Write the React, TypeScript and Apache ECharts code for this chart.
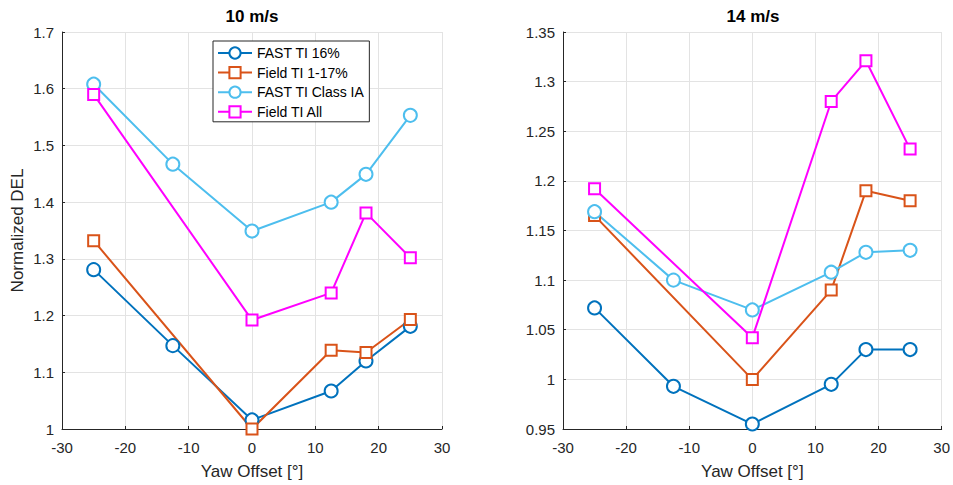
import React, { useEffect, useRef } from "react";
import * as echarts from "echarts";

const yawFast = [-25, -12.5, 0, 12.5, 18, 25];
const yawField = [-25, 0, 12.5, 18, 25];

const seriesNames = ["FAST TI 16%", "Field TI 1-17%", "FAST TI Class IA", "Field TI All"];
const seriesColors = ["#0072BD", "#D95319", "#4DBEEE", "#FF00FF"];

// 10 m/s
const fast16_10 = [1.281, 1.147, 1.016, 1.067, 1.12, 1.181];
const field117_10 = [1.332, 1.0, 1.139, 1.135, 1.193];
const fastIA_10 = [1.608, 1.467, 1.349, 1.4, 1.449, 1.553];
const fieldAll_10 = [1.59, 1.192, 1.24, 1.381, 1.302];

// 14 m/s
const fast16_14 = [1.072, 0.993, 0.955, 0.995, 1.03, 1.03];
const field117_14 = [1.165, 1.0, 1.09, 1.19, 1.18];
const fastIA_14 = [1.169, 1.1, 1.07, 1.108, 1.128, 1.13];
const fieldAll_14 = [1.192, 1.042, 1.28, 1.321, 1.232];

const titles = ["10 m/s", "14 m/s"];

const FONT = "Liberation Sans, Arial, Helvetica, sans-serif";
const AXIS_COLOR = "#262626";

function pairs(xs: number[], ys: number[]) {
  return xs.map((x, i) => [x, ys[i]]);
}

export default function App() {
  const ref = useRef<HTMLDivElement>(null);
  useEffect(() => {
    if (!ref.current) return;
    const chart = echarts.init(ref.current, undefined, { renderer: "svg" });
    const grids = [
      { left: 62, top: 32, width: 380, height: 401 },
      { left: 563, top: 32, width: 380, height: 401 },
    ];
    const xAxis = [0, 1].map((i) => ({
      type: "value",
      gridIndex: i,
      min: -30,
      max: 30,
      interval: 10,
      name: "Yaw Offset [°]",
      nameLocation: "middle",
      nameGap: 34,
      nameTextStyle: { fontFamily: FONT, fontSize: 17, color: AXIS_COLOR },
      axisLine: { show: true, onZero: false, lineStyle: { color: AXIS_COLOR, width: 1 } },
      axisTick: { show: true, inside: true, length: 3, lineStyle: { color: AXIS_COLOR } },
      axisLabel: { fontFamily: FONT, fontSize: 15, color: AXIS_COLOR, margin: 11 },
      splitLine: { show: true, lineStyle: { color: "#e3e3e3", width: 1 } },
    }));
    const fmt = (v: number) => String(+v.toFixed(2));
    const yAxis = [
      {
        type: "value",
        gridIndex: 0,
        min: 1,
        max: 1.7,
        interval: 0.1,
        name: "Normalized DEL",
        nameLocation: "middle",
        nameGap: 36,
        nameTextStyle: { fontFamily: FONT, fontSize: 17, color: AXIS_COLOR },
      },
      {
        type: "value",
        gridIndex: 1,
        min: 0.95,
        max: 1.35,
        interval: 0.05,
      },
    ].map((a) => ({
      ...a,
      axisLine: { show: true, onZero: false, lineStyle: { color: AXIS_COLOR, width: 1 } },
      axisTick: { show: true, inside: true, length: 3, lineStyle: { color: AXIS_COLOR } },
      axisLabel: { fontFamily: FONT, fontSize: 15, color: AXIS_COLOR, margin: 8, formatter: fmt },
      splitLine: { show: true, lineStyle: { color: "#e3e3e3", width: 1 } },
    }));

    const dataSets = [
      [pairs(yawFast, fast16_10), pairs(yawField, field117_10), pairs(yawFast, fastIA_10), pairs(yawField, fieldAll_10)],
      [pairs(yawFast, fast16_14), pairs(yawField, field117_14), pairs(yawFast, fastIA_14), pairs(yawField, fieldAll_14)],
    ];
    const series: any[] = [];
    dataSets.forEach((sets, g) => {
      sets.forEach((data, k) => {
        const isSquare = k % 2 === 1;
        series.push({
          type: "line",
          name: seriesNames[k],
          xAxisIndex: g,
          yAxisIndex: g,
          data,
          symbol: isSquare ? "emptyRect" : "emptyCircle",
          symbolSize: isSquare ? 11 : 13,
          showAllSymbol: true,
          color: seriesColors[k],
          lineStyle: { color: seriesColors[k], width: 2 },
          itemStyle: { color: seriesColors[k], borderColor: seriesColors[k], borderWidth: 1.8 },
          emphasis: { disabled: true },
        });
      });
    });

    chart.setOption({
      animation: false,
      backgroundColor: "#fff",
      title: titles.map((t, i) => ({
        text: t,
        left: grids[i].left + grids[i].width / 2,
        top: 8,
        padding: 0,
        textAlign: "center",
        textStyle: { fontFamily: FONT, fontSize: 17, fontWeight: "bold", color: "#000" },
      })),
      legend: {
        data: seriesNames,
        orient: "vertical",
        left: 213,
        top: 41,
        itemWidth: 34,
        itemHeight: 14,
        itemGap: 5.6,
        padding: [5, 5, 3, 4],
        backgroundColor: "#fff",
        borderColor: AXIS_COLOR,
        borderWidth: 1,
        borderRadius: 0,
        textStyle: { fontFamily: FONT, fontSize: 14, lineHeight: 14, color: "#000", padding: [0, 0, 0, 0] },
        selectedMode: false,
      },
      grid: grids,
      xAxis,
      yAxis,
      series,
    });
    return () => chart.dispose();
  }, []);
  return (
    <div
      ref={ref}
      style={{ position: "absolute", left: 0, top: 0, width: 953, height: 485 }}
    />
  );
}
